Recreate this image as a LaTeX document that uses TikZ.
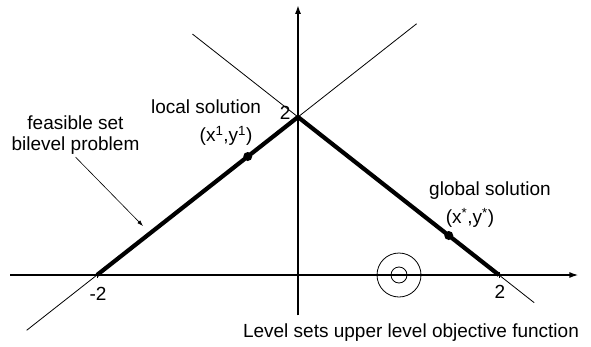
\documentclass[tikz,border=0pt]{standalone}
\usepackage{fontspec}
\setmainfont{Liberation Sans}
\usetikzlibrary{arrows.meta}
\tikzset{
 dt/.style={circle,fill=black,inner sep=0pt,minimum size=9pt},
 tx/.style={inner sep=0pt,align=center,font=\fontsize{19}{21}\selectfont},
 ax/.style={line width=1.5pt,-{Latex[length=9pt,width=6pt]}},
 ln/.style={line width=0.8pt},
 fs/.style={line width=4.2pt}}

\begin{document}
\begin{tikzpicture}[x=100.5pt,y=79pt]
 \useasboundingbox (-298pt,-71pt) rectangle (293pt,275pt);
 \coordinate (a) at (-2,0);
 \coordinate (b) at (2,0);
 \coordinate (t) at (0,2);
 % the two lines through the top point
 \coordinate (p1) at (-2.7,-0.7);
 \coordinate (p2) at (1.18,3.18);
 \coordinate (q1) at (-1.05,3.05);
 \coordinate (q2) at (2.35,-0.35);
 \draw[ln] (p1)--(p2) (q1)--(q2);
 % axes
 \coordinate (xl) at (-2.865,0);
 \coordinate (xr) at (2.79,0);
 \coordinate (yd) at (0,-0.51);
 \coordinate (yu) at (0,3.42);
 \draw[ax] (xl)--(xr);
 \draw[ax,line width=2.4pt] (yd)--(yu);
 \draw[line width=0.8pt] (a)++(0,-3pt)--++(0,6pt) (b)++(0,-3pt)--++(0,6pt);
 % feasible set
 \draw[fs] (a)--(t)--(b);
 \node[dt] (s1) at (-0.5,1.5) {};
 \node[dt] (s2) at (1.5,0.5) {};
 % level sets
 \node[circle,draw,line width=0.8pt,minimum size=44pt,inner sep=0pt] (c1) at (1.005,0) {};
 \node[circle,draw,line width=0.8pt,minimum size=16pt,inner sep=0pt] (c2) at (1.005,0) {};
 % labels
 \node[tx] (fb) at (-2.214,1.766) {feasible set\\bilevel problem};
 \coordinate (fe) at (-1.542,0.62);
 \draw[line width=0.6pt,-{Latex[length=6pt,width=4pt]}] ([yshift=-2pt]fb.south)--(fe);
 \node[tx] (ls) at (-0.915,2.127) {local solution};
 \node[tx] (lx) at (-0.716,1.759) {(x\textsuperscript{1},y\textsuperscript{1})};
 \node[tx] (tt) at (-0.129,2.05) {2};
 \node[tx] (gs) at (1.91,1.063) {global solution};
 \node[tx] (gx) at (1.711,0.722) {(x\textsuperscript{*},y\textsuperscript{*})};
 \node[tx] (ma) at (-1.99,-0.24) {-2};
 \node[tx] (mb) at (2.01,-0.215) {2};
 \node[tx] (lv) at (1.124,-0.734) {Level sets upper level objective function};
\end{tikzpicture}
\end{document}
